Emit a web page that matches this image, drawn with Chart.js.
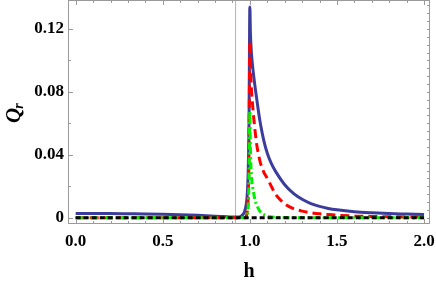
<!DOCTYPE html>
<html>
<head>
<meta charset="utf-8">
<script src="https://cdn.jsdelivr.net/npm/chart.js@4.4.1/dist/chart.umd.min.js"></script>
<style>
  html, body { margin: 0; padding: 0; background: #fff; }
  #wrap { width: 436px; height: 282px; }
</style>
</head>
<body>
<div id="wrap"><canvas id="cv"></canvas></div>
<script>
// --- data ---
const hVals  = [0, 0.1, 0.2, 0.3, 0.4, 0.5, 0.6, 0.7, 0.8, 0.85, 0.9, 0.93, 0.95, 0.97, 0.98, 0.985, 0.99, 0.995,
                1.0, 1.003, 1.006, 1.01, 1.02, 1.03, 1.04, 1.05, 1.06, 1.08, 1.1, 1.125, 1.15, 1.2, 1.25, 1.3,
                1.35, 1.4, 1.45, 1.5, 1.6, 1.7, 1.8, 1.9, 2.0];
const qBlue  = [0.0026, 0.0026, 0.0026, 0.0025, 0.0024, 0.0022, 0.0019, 0.0015, 0.0010, 0.0007, 0.0004, 0.0004, 0.0010, 0.0040, 0.0090, 0.0150, 0.0280, 0.0600,
                0.134, 0.118, 0.110, 0.103, 0.092, 0.083, 0.075, 0.067, 0.060, 0.049, 0.041, 0.034, 0.029, 0.021, 0.0155, 0.0117,
                0.0090, 0.0072, 0.0059, 0.0050, 0.0038, 0.0031, 0.0026, 0.0023, 0.0020];
const qRed   = [0, 0, 0, 0, 0, 0, 0, 0, 0, 0, 0, 0, 0, 0, 0.0010, 0.0040, 0.0120, 0.0400,
                0.112, 0.097, 0.088, 0.080, 0.066, 0.055, 0.046, 0.040, 0.035, 0.029, 0.025, 0.0195, 0.0145, 0.0088, 0.0058, 0.0042,
                0.0032, 0.0025, 0.0020, 0.0016, 0.0011, 0.0008, 0.0006, 0.0005, 0.0004];
const qGreen = [0, 0, 0, 0, 0, 0, 0, 0, 0, 0, 0, 0, 0, 0, 0, 0, 0.0060, 0.0250,
                0.068, 0.045, 0.033, 0.025, 0.017, 0.011, 0.0078, 0.0055, 0.0038, 0.0020, 0.0009, 0.0005, 0.0003, 0.0001, 0, 0,
                0, 0, 0, 0, 0, 0, 0, 0, 0];
const zeroH = [0, 2];
const zeroQ = [0, 0];
const markerH = 0.918;

const xMajor = [0, 0.5, 1, 1.5, 2];
const xTickLabels = ['0.0', '0.5', '1.0', '1.5', '2.0'];
const yMajor = [0, 0.04, 0.08, 0.12];
const yTickLabels = ['0', '0.04', '0.08', '0.12'];

const X_MIN = -0.044, X_MAX = 2.034, Y_MIN = -0.004, Y_MAX = 0.1384;

function pts(xs, ys) { return xs.map((x, i) => ({ x: x, y: ys[i] })); }
function steps(a, b, s) { const out = []; for (let v = a; v <= b + 1e-9; v += s) out.push(+v.toFixed(4)); return out; }
function labelFor(v, majors, labels) {
  const i = majors.findIndex(m => Math.abs(m - v) < 1e-6);
  return i < 0 ? '' : labels[i];
}

const xMinor = steps(0, 2, 0.1);
const yMinor = steps(0, 0.12, 0.02);
const yRight = steps(0, 0.135, 0.005);

const serif = '"Liberation Serif", "Times New Roman", serif';

// full frame with inward ticks, plus the axis titles
const framePlugin = {
  id: 'frame',
  afterDraw(chart) {
    const { ctx, chartArea: a, scales: { x, y } } = chart;
    ctx.save();
    ctx.strokeStyle = '#9a9a9a';
    ctx.lineWidth = 1;
    ctx.strokeRect(a.left + 0.5, a.top + 0.5, a.right - a.left - 1, a.bottom - a.top - 1);
    ctx.beginPath();
    xMinor.forEach(v => {
      const px = Math.round(x.getPixelForValue(v)) + 0.5;
      const len = xMajor.some(m => Math.abs(m - v) < 1e-6) ? 5 : 3;
      ctx.moveTo(px, a.bottom); ctx.lineTo(px, a.bottom - len);
      ctx.moveTo(px, a.top); ctx.lineTo(px, a.top + len);
    });
    yMinor.forEach(v => {
      const py = Math.round(y.getPixelForValue(v)) + 0.5;
      const len = yMajor.some(m => Math.abs(m - v) < 1e-6) ? 5 : 3;
      ctx.moveTo(a.left, py); ctx.lineTo(a.left + len, py);
    });
    yRight.forEach(v => {
      const py = Math.round(y.getPixelForValue(v)) + 0.5;
      ctx.moveTo(a.right, py); ctx.lineTo(a.right - 3, py);
    });
    ctx.stroke();

    ctx.fillStyle = '#000';
    ctx.font = 'bold 20px ' + serif;
    ctx.textAlign = 'center';
    ctx.textBaseline = 'alphabetic';
    ctx.fillText('h', (a.left + a.right) / 2, 277);

    ctx.translate(20, 110);
    ctx.rotate(-Math.PI / 2);
    ctx.textAlign = 'left';
    ctx.font = 'italic bold 21px ' + serif;
    const wQ = ctx.measureText('Q').width;
    ctx.fillText('Q', -13, 0);
    ctx.font = 'italic bold 14px ' + serif;
    ctx.fillText('r', -13 + wQ - 1, 3);
    ctx.restore();
  }
};

const lineBase = { showLine: true, pointRadius: 0, fill: false, borderWidth: 3, tension: 0 };

new Chart(document.getElementById('cv'), {
  type: 'scatter',
  data: {
    datasets: [
      Object.assign({}, lineBase, { label: 'zero', data: pts(zeroH, zeroQ), borderColor: '#000', borderDash: [5, 3] }),
      Object.assign({}, lineBase, { label: 'green', data: pts(hVals, qGreen), borderColor: '#00ee00', borderDash: [7, 3, 2, 3], cubicInterpolationMode: 'monotone' }),
      Object.assign({}, lineBase, { label: 'red', data: pts(hVals, qRed), borderColor: '#ff0000', borderDash: [9, 5], cubicInterpolationMode: 'monotone' }),
      Object.assign({}, lineBase, { label: 'blue', data: pts(hVals, qBlue), borderColor: '#3c3c9c', cubicInterpolationMode: 'monotone' }),
      Object.assign({}, lineBase, { label: 'marker', data: [{ x: markerH, y: Y_MIN }, { x: markerH, y: Y_MAX }], borderColor: '#b4b4b4', borderWidth: 1 })
    ]
  },
  options: {
    responsive: true,
    maintainAspectRatio: false,
    animation: false,
    layout: { padding: { top: 0, right: 6, bottom: 0, left: 0 } },
    plugins: { legend: { display: false }, tooltip: { enabled: false } },
    scales: {
      x: {
        type: 'linear', min: X_MIN, max: X_MAX,
        grid: { display: false, drawTicks: false },
        border: { display: false },
        afterBuildTicks: s => { s.ticks = xMinor.map(v => ({ value: v })); },
        afterFit: s => { s.height = 58; s.paddingLeft = 0; s.paddingRight = 0; },
        ticks: {
          autoSkip: false, maxRotation: 0, padding: 7, color: '#000',
          font: { family: serif, size: 17, weight: 'bold' },
          callback: v => labelFor(v, xMajor, xTickLabels)
        }
      },
      y: {
        type: 'linear', min: Y_MIN, max: Y_MAX,
        grid: { display: false, drawTicks: false },
        border: { display: false },
        afterBuildTicks: s => { s.ticks = yMinor.map(v => ({ value: v })); },
        afterFit: s => { s.width = 68; s.paddingTop = 0; s.paddingBottom = 0; },
        ticks: {
          autoSkip: false, padding: 4, color: '#000',
          font: { family: serif, size: 17, weight: 'bold' },
          callback: v => labelFor(v, yMajor, yTickLabels)
        }
      }
    }
  },
  plugins: [framePlugin]
});
</script>
</body>
</html>
